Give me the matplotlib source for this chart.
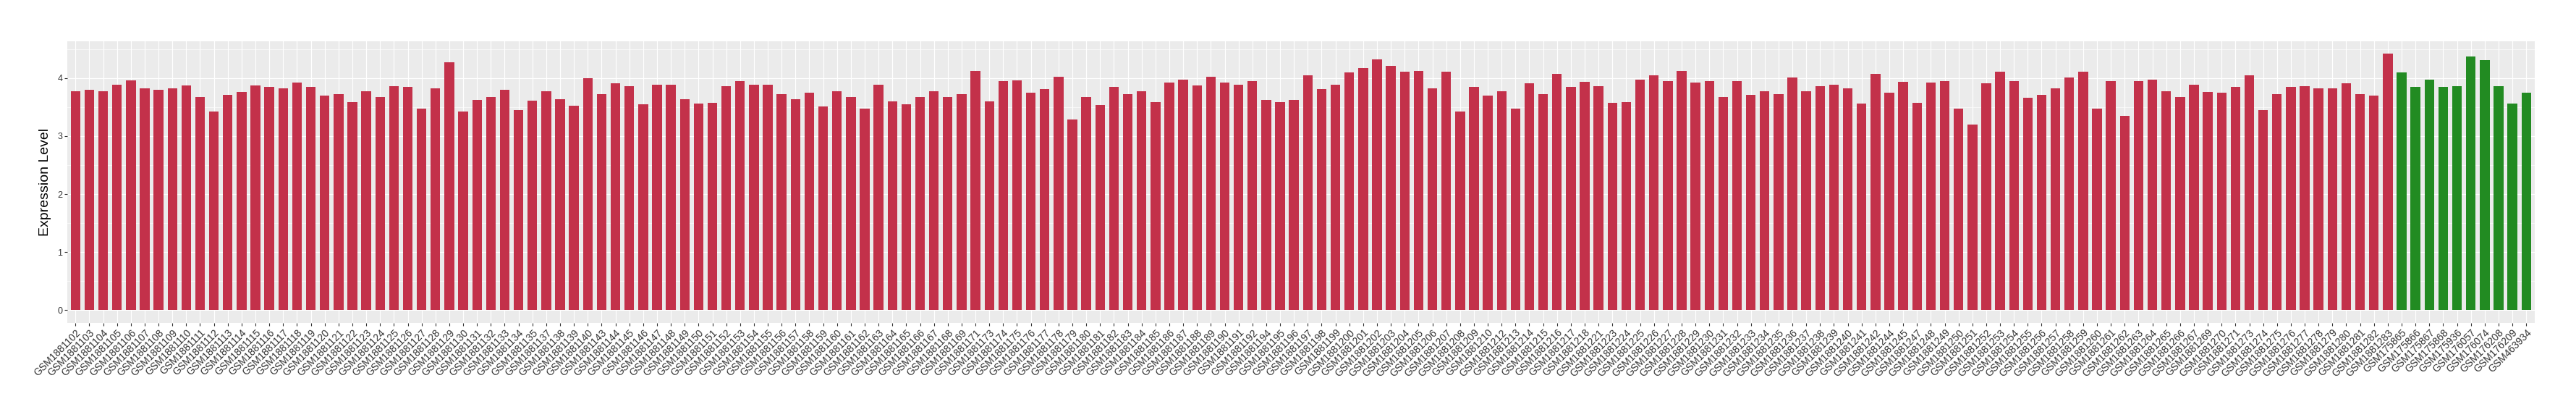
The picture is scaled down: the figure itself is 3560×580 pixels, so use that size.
import matplotlib
matplotlib.use("Agg")
import matplotlib.pyplot as plt
from matplotlib.ticker import FixedLocator

plt.rcParams['font.family'] = ['Liberation Sans', 'DejaVu Sans']

tumor_labels = [
    "GSM1881102", "GSM1881103", "GSM1881104", "GSM1881105", "GSM1881106", "GSM1881107",
    "GSM1881108", "GSM1881109", "GSM1881110", "GSM1881111", "GSM1881112", "GSM1881113",
    "GSM1881114", "GSM1881115", "GSM1881116", "GSM1881117", "GSM1881118", "GSM1881119",
    "GSM1881120", "GSM1881121", "GSM1881122", "GSM1881123", "GSM1881124", "GSM1881125",
    "GSM1881126", "GSM1881127", "GSM1881128", "GSM1881129", "GSM1881130", "GSM1881131",
    "GSM1881132", "GSM1881133", "GSM1881134", "GSM1881135", "GSM1881137", "GSM1881138",
    "GSM1881139", "GSM1881140", "GSM1881143", "GSM1881144", "GSM1881145", "GSM1881146",
    "GSM1881147", "GSM1881148", "GSM1881149", "GSM1881150", "GSM1881151", "GSM1881152",
    "GSM1881153", "GSM1881154", "GSM1881155", "GSM1881156", "GSM1881157", "GSM1881158",
    "GSM1881159", "GSM1881160", "GSM1881161", "GSM1881162", "GSM1881163", "GSM1881164",
    "GSM1881165", "GSM1881166", "GSM1881167", "GSM1881168", "GSM1881169", "GSM1881171",
    "GSM1881173", "GSM1881174", "GSM1881175", "GSM1881176", "GSM1881177", "GSM1881178",
    "GSM1881179", "GSM1881180", "GSM1881181", "GSM1881182", "GSM1881183", "GSM1881184",
    "GSM1881185", "GSM1881186", "GSM1881187", "GSM1881188", "GSM1881189", "GSM1881190",
    "GSM1881191", "GSM1881192", "GSM1881194", "GSM1881195", "GSM1881196", "GSM1881197",
    "GSM1881198", "GSM1881199", "GSM1881200", "GSM1881201", "GSM1881202", "GSM1881203",
    "GSM1881204", "GSM1881205", "GSM1881206", "GSM1881207", "GSM1881208", "GSM1881209",
    "GSM1881210", "GSM1881212", "GSM1881213", "GSM1881214", "GSM1881215", "GSM1881216",
    "GSM1881217", "GSM1881218", "GSM1881221", "GSM1881223", "GSM1881224", "GSM1881225",
    "GSM1881226", "GSM1881227", "GSM1881228", "GSM1881229", "GSM1881230", "GSM1881231",
    "GSM1881232", "GSM1881233", "GSM1881234", "GSM1881235", "GSM1881236", "GSM1881237",
    "GSM1881238", "GSM1881239", "GSM1881240", "GSM1881241", "GSM1881242", "GSM1881244",
    "GSM1881245", "GSM1881247", "GSM1881248", "GSM1881249", "GSM1881250", "GSM1881251",
    "GSM1881252", "GSM1881253", "GSM1881254", "GSM1881255", "GSM1881256", "GSM1881257",
    "GSM1881258", "GSM1881259", "GSM1881260", "GSM1881261", "GSM1881262", "GSM1881263",
    "GSM1881264", "GSM1881265", "GSM1881266", "GSM1881267", "GSM1881269", "GSM1881270",
    "GSM1881271", "GSM1881273", "GSM1881274", "GSM1881275", "GSM1881276", "GSM1881277",
    "GSM1881278", "GSM1881279", "GSM1881280", "GSM1881281", "GSM1881282", "GSM1881283",
]

tumor_values = [
    3.78, 3.80, 3.78, 3.89, 3.96, 3.83,
    3.80, 3.83, 3.87, 3.68, 3.42, 3.71,
    3.76, 3.87, 3.85, 3.82, 3.92, 3.85,
    3.70, 3.72, 3.59, 3.78, 3.68, 3.86,
    3.85, 3.47, 3.82, 4.28, 3.42, 3.62,
    3.68, 3.80, 3.45, 3.61, 3.78, 3.64,
    3.52, 4.00, 3.72, 3.91, 3.86, 3.55,
    3.89, 3.89, 3.64, 3.56, 3.57, 3.86,
    3.95, 3.89, 3.89, 3.72, 3.64, 3.75,
    3.51, 3.77, 3.68, 3.47, 3.89, 3.60,
    3.55, 3.68, 3.77, 3.67, 3.73, 4.13,
    3.60, 3.95, 3.96, 3.75, 3.81, 4.02,
    3.29, 3.67, 3.54, 3.85, 3.73, 3.77,
    3.59, 3.92, 3.98, 3.87, 4.02, 3.92,
    3.89, 3.95, 3.62, 3.59, 3.62, 4.05,
    3.81, 3.89, 4.10, 4.17, 4.33, 4.21,
    4.11, 4.13, 3.83, 4.11, 3.43, 3.85,
    3.70, 3.77, 3.47, 3.91, 3.73, 4.07,
    3.85, 3.94, 3.86, 3.57, 3.59, 3.98,
    4.05, 3.95, 4.12, 3.92, 3.95, 3.68,
    3.95, 3.71, 3.78, 3.72, 4.01, 3.77,
    3.86, 3.89, 3.83, 3.56, 4.07, 3.75,
    3.94, 3.57, 3.92, 3.95, 3.48, 3.20,
    3.91, 4.11, 3.95, 3.66, 3.71, 3.82,
    4.01, 4.11, 3.48, 3.95, 3.35, 3.95,
    3.97, 3.78, 3.68, 3.89, 3.76, 3.75,
    3.85, 4.05, 3.45, 3.72, 3.85, 3.86,
    3.83, 3.83, 3.91, 3.73, 3.70, 4.42,
]

normal_labels = [
    "GSM175865", "GSM175866", "GSM175867", "GSM175868", "GSM175936",
    "GSM176057", "GSM176074", "GSM176208", "GSM176209", "GSM463934",
]

normal_values = [4.10, 3.85, 3.98, 3.85, 3.86, 4.37, 4.31, 3.86, 3.56, 3.75]

tumor_color = "#C3314A"
normal_color = "#228B22"

labels = tumor_labels + normal_labels
values = tumor_values + normal_values
colors = [tumor_color] * len(tumor_values) + [normal_color] * len(normal_values)
n = len(labels)
xpos = list(range(n))

W, H = 3560, 580
fig = plt.figure(figsize=(W / 100, H / 100), dpi=100)
left, right, top, bottom = 92.8, 3502.7, 56.7, 445.7
ax = fig.add_axes([left / W, 1 - bottom / H, (right - left) / W, (bottom - top) / H])

ax.set_facecolor("#EBEBEB")
ax.bar(xpos, values, width=0.7, color=colors, zorder=3)

vmax = max(values)
ax.set_xlim(-0.6, n - 1 + 0.6)
ax.set_ylim(-0.05 * vmax, 1.05 * vmax)

ax.yaxis.set_major_locator(FixedLocator([0, 1, 2, 3, 4]))
ax.yaxis.set_minor_locator(FixedLocator([0.5, 1.5, 2.5, 3.5, 4.5]))
ax.set_xticks(xpos)
ax.set_xticklabels(labels, rotation=45, ha="right", va="top", rotation_mode="anchor",
                   fontsize=10, color="#333333")
ax.tick_params(axis="y", which="major", labelsize=9, colors="#333333", length=2.6,
               width=0.8, pad=2, labelcolor="#333333")
ax.tick_params(axis="y", which="minor", length=0)
ax.tick_params(axis="x", which="major", length=2.6, width=0.8, pad=2, colors="#333333")

ax.grid(True, which="major", axis="both", color="white", linewidth=0.85, zorder=1)
ax.grid(True, which="minor", axis="y", color="white", linewidth=0.45, zorder=1)
ax.set_axisbelow(True)
for s in ax.spines.values():
    s.set_visible(False)

ax.set_ylabel("Expression Level", fontsize=14, color="black", va="center")
ax.yaxis.set_label_coords((62.5 - left) / (right - left), 0.5)

fig.savefig("out.png", dpi=100)
